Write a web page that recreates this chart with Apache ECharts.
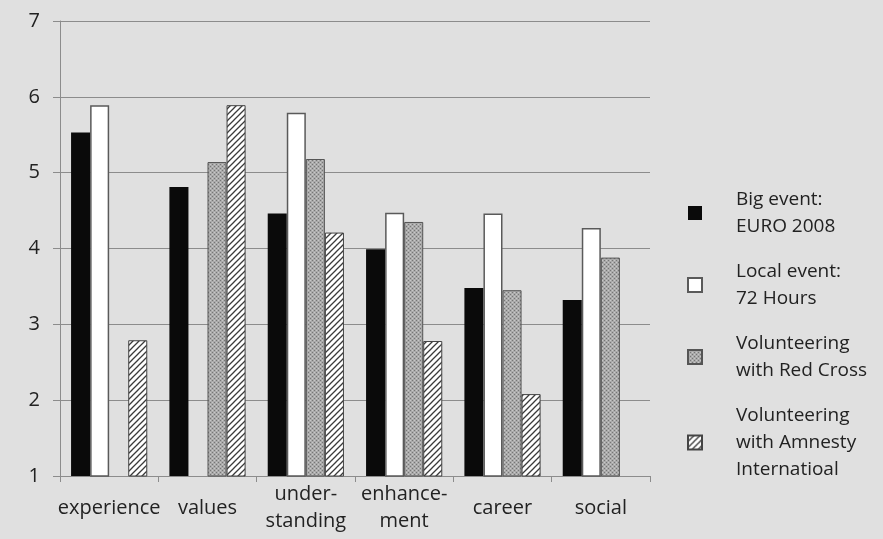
<!DOCTYPE html>
<html>
<head>
<meta charset="utf-8">
<script src="https://cdn.jsdelivr.net/npm/echarts@6/dist/echarts.min.js"></script>
<style>
  html, body { margin: 0; padding: 0; background: #e0e0e0; }
  #chart { width: 883px; height: 539px; }
</style>
</head>
<body>
<div id="chart"></div>
<script>
// Motive categories and mean scores per volunteer group
const categories = ['experience', 'values', 'under-\nstanding', 'enhance-\nment', 'career', 'social'];
const seriesNames = [
  'Big event:\nEURO 2008',
  'Local event:\n72 Hours',
  'Volunteering\nwith Red Cross',
  'Volunteering\nwith Amnesty\nInternatioal'
];
const bigEvent   = [5.53, 4.81, 4.46, 3.99, 3.48, 3.32];
const localEvent = [5.89, null, 5.79, 4.47, 4.46, 4.27];
const redCross   = [null, 5.14, 5.18, 4.35, 3.45, 3.88];
const amnesty    = [2.79, 5.89, 4.21, 2.78, 2.08, null];
const yTicks = { min: 1, max: 7, step: 1 };

// Fill patterns for the textured bars
function dottedPattern() {
  const c = document.createElement('canvas');
  c.width = 4; c.height = 4;
  const g = c.getContext('2d');
  g.fillStyle = '#aaaaaa';
  g.fillRect(0, 0, 4, 4);
  g.fillStyle = '#767676';
  g.fillRect(0, 0, 1, 1);
  g.fillRect(2, 2, 1, 1);
  g.fillStyle = '#c8c8c8';
  g.fillRect(2, 0, 1, 1);
  g.fillRect(0, 2, 1, 1);
  return c;
}
function hatchPattern() {
  const s = 6;
  const c = document.createElement('canvas');
  c.width = s; c.height = s;
  const g = c.getContext('2d');
  g.fillStyle = '#ffffff';
  g.fillRect(0, 0, s, s);
  g.strokeStyle = '#3a3a3a';
  g.lineWidth = 1.3;
  g.beginPath();
  g.moveTo(-1, s + 1); g.lineTo(s + 1, -1);
  g.moveTo(-1, 1); g.lineTo(1, -1);
  g.moveTo(s - 1, s + 1); g.lineTo(s + 1, s - 1);
  g.stroke();
  return c;
}

const styles = [
  { color: '#0a0a0a', borderColor: '#0a0a0a', borderWidth: 0 },
  { color: '#ffffff', borderColor: '#5a5a5a', borderWidth: 1.5 },
  { color: { image: dottedPattern(), repeat: 'repeat' }, borderColor: '#555555', borderWidth: 1 },
  { color: { image: hatchPattern(), repeat: 'repeat' }, borderColor: '#444444', borderWidth: 1 }
];
const values = [bigEvent, localEvent, redCross, amnesty];

const font = '"Open Sans", "Noto Sans", sans-serif';
const chart = echarts.init(document.getElementById('chart'));
chart.setOption({
  backgroundColor: '#e0e0e0',
  animation: false,
  grid: { left: 60, right: 233, top: 21, bottom: 63, containLabel: false },
  legend: {
    orient: 'vertical',
    left: 687,
    top: 186,
    padding: 0,
    icon: 'rect',
    itemWidth: 14,
    itemHeight: 14,
    itemGap: 18,
    textStyle: { fontFamily: font, fontSize: 19, lineHeight: 27, color: '#222', padding: [0, 0, 0, 29] },
    data: seriesNames
  },
  xAxis: {
    type: 'category',
    data: categories,
    axisLine: { show: true, lineStyle: { color: '#8c8c8c', width: 1 } },
    axisTick: { show: true, length: 6, alignWithLabel: false, lineStyle: { color: '#8c8c8c' } },
    axisLabel: {
      interval: 0, margin: 32, verticalAlign: 'middle',
      fontFamily: font, fontSize: 20, lineHeight: 27, color: '#222'
    }
  },
  yAxis: {
    type: 'value',
    min: yTicks.min, max: yTicks.max, interval: yTicks.step,
    axisLine: { show: true, lineStyle: { color: '#8c8c8c', width: 1 } },
    axisTick: { show: true, length: 7, lineStyle: { color: '#8c8c8c' } },
    splitLine: { show: true, lineStyle: { color: '#8c8c8c', width: 1 } },
    axisLabel: { margin: 20, fontFamily: font, fontSize: 20, color: '#222' }
  },
  series: seriesNames.map((name, i) => ({
    name: name,
    type: 'bar',
    data: values[i],
    barGap: '0%',
    barCategoryGap: '22.5%',
    itemStyle: styles[i]
  }))
});
</script>
</body>
</html>
